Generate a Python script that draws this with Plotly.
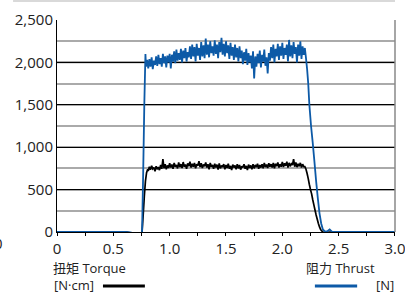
import plotly.graph_objects as go

# ---- data ----
# Thrust [N]
thrust_pre_t = [0.0, 0.60, 0.65, 0.70, 0.74, 0.755, 0.765, 0.775, 0.785]
thrust_pre_v = [0, 0, -5, -20, -15, 0, 700, 1500, 2100]
thrust_plateau_start = 0.79
thrust_plateau_v = [
    1950, 2030, 1930, 2040, 1950, 2060, 1920, 2020, 1970, 2070,
    1960, 2090, 1980, 2050, 1950, 2100, 1990, 2070, 1940, 2080,
    2000, 2100, 1930, 2090, 2010, 2130, 1990, 2150, 2020, 2110,
    2030, 2160, 2000, 2140, 2050, 2170, 2010, 2120, 2060, 2190,
    2040, 2210, 2070, 2180, 2010, 2220, 2080, 2170, 2030, 2240,
    2070, 2200, 2050, 2280, 2090, 2210, 2060, 2250, 2110, 2190,
    2080, 2260, 2100, 2210, 2050, 2240, 2120, 2290, 2090, 2220,
    2070, 2250, 2110, 2200, 2040, 2230, 2080, 2180, 2030, 2210,
    2060, 2170, 2010, 2190, 2050, 2140, 1980, 2120, 2020, 2160,
    1970, 2110, 2000, 2080, 1930, 2130, 1810, 2070, 1950, 2100,
    1990, 2140, 1940, 2090, 2010, 2150, 1960, 2060, 1870, 2110,
    2020, 2180, 2050, 2210, 2000, 2160, 2070, 2220, 2030, 2190,
    2080, 2230, 2040, 2170, 2090, 2210, 2010, 2265, 2070, 2200,
    2050, 2240, 2100, 2180, 2000, 2210, 2080, 2250, 2040, 2190,
    2090, 2170,
]
thrust_post_t = [2.21, 2.22, 2.23, 2.24, 2.255, 2.27, 2.285, 2.30, 2.315, 2.33,
                 2.345, 2.36, 2.38, 2.40, 2.42, 2.44, 2.47, 3.0]
thrust_post_v = [2050, 1920, 1750, 1500, 1250, 1050, 830, 600, 400, 220,
                 100, 30, 5, 10, 30, 5, 0, 0]

# Torque [N·cm]
torque_pre_t = [0.0, 0.62, 0.65, 0.68, 0.72, 0.745, 0.755, 0.765, 0.775, 0.785, 0.795, 0.805]
torque_pre_v = [0, 0, -10, -20, -25, -15, 0, 200, 420, 600, 700, 740]
torque_plateau_start = 0.81
torque_plateau_v = [
    720, 770, 735, 780, 745, 760, 715, 775, 740, 765,
    730, 790, 745, 860, 750, 800, 740, 785, 755, 810,
    760, 795, 745, 815, 770, 790, 750, 820, 765, 800,
    755, 825, 770, 795, 745, 810, 775, 830, 760, 805,
    770, 815, 750, 800, 780, 835, 765, 810, 755, 795,
    775, 820, 760, 800, 740, 815, 770, 790, 745, 805,
    760, 795, 735, 810, 750, 785, 765, 800, 740, 790,
    755, 805, 745, 780, 730, 795, 760, 785, 740, 800,
    750, 790, 735, 775, 760, 800, 745, 780, 730, 795,
    755, 785, 740, 800, 750, 790, 765, 805, 745, 790,
    760, 800, 750, 815, 765, 795, 755, 810, 770, 800,
    760, 815, 750, 805, 775, 820, 760, 800, 770, 825,
    765, 810, 780, 830, 760, 815, 775, 805, 790, 860,
    770, 820, 765, 805, 775, 815, 760, 800, 770,
]
torque_post_t = [2.20, 2.21, 2.22, 2.23, 2.24, 2.25, 2.26, 2.27, 2.28, 2.29, 2.30,
                 2.31, 2.32, 2.33, 2.34, 2.35, 2.36, 2.38, 2.40, 2.42, 3.0]
torque_post_v = [770, 740, 690, 630, 560, 500, 450, 380, 320, 260, 200,
                 150, 100, 60, 30, 12, 0, -10, -5, 0, 0]

x_tickvals = [0, 0.5, 1.0, 1.5, 2.0, 2.5, 3.0]
x_ticktext = ["0", "0.5", "1.0", "1.5", "2.0", "2.5", "3.0"]
y_tickvals = [0, 500, 1000, 1500, 2000, 2500]
y_ticktext = ["0", "500", "1,000", "1,500", "2,000", "2,500"]

STEP = 0.01

def grid(start, n):
    return [round(start + STEP * i, 3) for i in range(n)]

thrust_t = thrust_pre_t + grid(thrust_plateau_start, len(thrust_plateau_v)) + thrust_post_t
thrust_v = thrust_pre_v + thrust_plateau_v + thrust_post_v
torque_t = torque_pre_t + grid(torque_plateau_start, len(torque_plateau_v)) + torque_post_t
torque_v = torque_pre_v + torque_plateau_v + torque_post_v

BLUE = "#0d5aa7"
FONT = "Open Sans, Noto Sans CJK JP, sans-serif"

fig = go.Figure()
fig.add_trace(go.Scatter(x=torque_t, y=torque_v, mode="lines",
                         line=dict(color="#000000", width=1.7, simplify=False), showlegend=False))
fig.add_trace(go.Scatter(x=thrust_t, y=thrust_v, mode="lines",
                         line=dict(color=BLUE, width=1.8, simplify=False), showlegend=False))

fig.update_layout(
    width=405, height=292,
    margin=dict(l=57, r=10, t=20, b=60, autoexpand=False),
    paper_bgcolor="white", plot_bgcolor="white",
    font=dict(family=FONT, size=15, color="#222"),
    showlegend=False,
)
fig.update_xaxes(
    range=[0, 3.0001], tickvals=x_tickvals, ticktext=x_ticktext,
    showgrid=False, zeroline=False, showline=True, linecolor="black", linewidth=1,
    ticks="outside", ticklen=3, tickcolor="black",
    minor=dict(dtick=0.25, tick0=0, ticks="outside", ticklen=3, tickcolor="black", showgrid=False),
    layer="below traces", tickfont=dict(size=15), automargin=False,
    ticklabeloverflow="allow",
)
fig.update_yaxes(
    range=[0, 2500], tickvals=y_tickvals, ticktext=y_ticktext,
    showgrid=True, gridcolor="black", gridwidth=1,
    minor=dict(dtick=250, tick0=0, showgrid=True, gridcolor="#aaaaaa", gridwidth=1.5),
    zeroline=False, showline=True, linecolor="black", linewidth=1,
    ticks="", layer="below traces", tickfont=dict(size=15), automargin=False,
)

shapes = []
# darker grey line at 2,000
shapes.append(dict(type="line", xref="paper", yref="y", x0=0, x1=1, y0=y_tickvals[4], y1=y_tickvals[4],
                   line=dict(color="#7a7a7a", width=1.5), layer="between"))
# right frame line
shapes.append(dict(type="line", xref="paper", yref="paper", x0=1, x1=1, y0=0, y1=1,
                   line=dict(color="#888888", width=1.5)))
# top light line
shapes.append(dict(type="line", xref="paper", yref="paper", x0=-0.130, x1=1, y0=1.0896, y1=1.0896,
                   line=dict(color="#cccccc", width=1.5)))
# legend swatches
shapes.append(dict(type="line", xref="paper", yref="paper", x0=0.136, x1=0.260, y0=-0.2547, y1=-0.2547,
                   line=dict(color="black", width=3)))
shapes.append(dict(type="line", xref="paper", yref="paper", x0=0.763, x1=0.888, y0=-0.2547, y1=-0.2547,
                   line=dict(color=BLUE, width=3)))
fig.update_layout(shapes=shapes)

ann_font = dict(family=FONT, size=13, color="#222")
annotations = [
    dict(text="扭矩 Torque", x=-0.0148, y=-0.170, xanchor="left", yanchor="middle"),
    dict(text="[N·cm]", x=-0.0118, y=-0.2500, xanchor="left", yanchor="middle"),
    dict(text="阻力 Thrust", x=0.734, y=-0.170, xanchor="left", yanchor="middle"),
    dict(text="[N]", x=1.0, y=-0.2500, xanchor="right", yanchor="middle"),
    dict(text="0", x=-0.1716, y=-0.0519, xanchor="center", yanchor="middle",
         font=dict(family=FONT, size=15, color="#222")),
]
for a in annotations:
    a.setdefault("font", ann_font)
    a.update(xref="paper", yref="paper", showarrow=False, borderpad=0)
fig.update_layout(annotations=annotations)

fig.write_html("out.html", config={"displayModeBar": False},
               post_script="document.body.style.margin='0';document.body.style.overflow='hidden';")
